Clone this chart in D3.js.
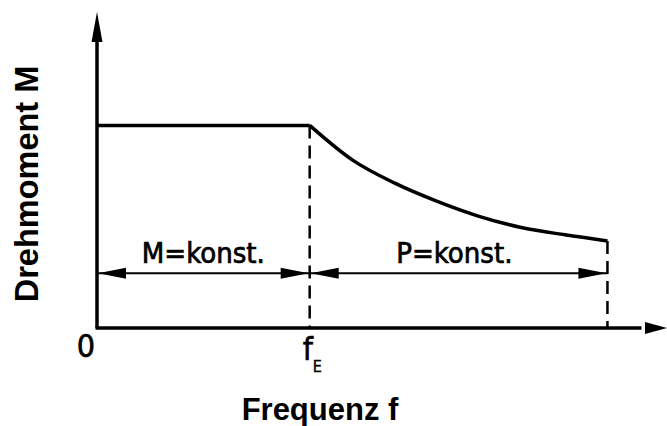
<!DOCTYPE html>
<html>
<head>
<meta charset="utf-8">
<script src="https://cdn.jsdelivr.net/npm/d3@7"></script>
<style>
  body { margin: 0; background: #fff; }
  svg { display: block; }
</style>
</head>
<body>
<div id="chart"></div>
<script>
// values (f in Hz-like units, M in % of nominal torque)
const fE = 50;
const fMax = 120;
const flatF = [0, 50];
const flatM = [100, 100];
const curveF = [50, 60, 70, 80, 90, 100, 110, 120];
const curveM = [100, 83, 71.5, 62.5, 55, 49.5, 46, 43];
const dimM = 27;
const rangeLabels = ['M=konst.', 'P=konst.'];
const rangeCenters = [25, 84];

(function(){
    const W = 667, H = 426;
    const origin = { x: 97, y: 328 };

    const svg = d3.select('#chart')
        .append('svg')
            .attr('width', W)
            .attr('height', H);

    const x = d3.scaleLinear().domain([0, 134]).range([origin.x, 667]);
    const y = d3.scaleLinear().domain([0, 156]).range([origin.y, 12]);

    const condensed = '"DejaVu Sans Condensed", "DejaVu Sans", sans-serif';

    // axes
    svg.append('line')
        .attr('x1', x(0)).attr('y1', y(0))
        .attr('x2', x(0)).attr('y2', y(148))
        .attr('stroke', '#000').attr('stroke-width', 3.5);
    svg.append('line')
        .attr('x1', x(0) - 1.5).attr('y1', y(0))
        .attr('x2', x(128)).attr('y2', y(0))
        .attr('stroke', '#000').attr('stroke-width', 3.5);

    // axis arrow heads
    const yTip = y(156), yBase = y(156) + 30;
    svg.append('path')
        .attr('d', `M${x(0)},${yTip} L${x(0) + 5.5},${yBase} L${x(0) - 5.5},${yBase} Z`)
        .attr('fill', '#000');
    const xTip = x(134), xBase = x(134) - 22;
    svg.append('path')
        .attr('d', `M${xTip},${y(0)} L${xBase},${y(0) - 6} L${xBase},${y(0) + 6} Z`)
        .attr('fill', '#000');

    // dashed verticals
    [[fE, flatM[1]], [fMax, curveM[curveM.length - 1]]].forEach(([f, m]) => {
        svg.append('line')
            .attr('x1', x(f)).attr('y1', y(m))
            .attr('x2', x(f)).attr('y2', y(0))
            .attr('stroke', '#000').attr('stroke-width', 2.5)
            .attr('stroke-dasharray', '13,7');
    });

    // torque curve
    const line = d3.line()
        .x(d => x(d[0]))
        .y(d => y(d[1]));

    svg.append('path')
        .datum(flatF.map((f, i) => [f, flatM[i]]))
        .attr('d', line)
        .attr('fill', 'none')
        .attr('stroke', '#000').attr('stroke-width', 3.5);

    svg.append('path')
        .datum(curveF.map((f, i) => [f, curveM[i]]))
        .attr('d', line.curve(d3.curveMonotoneX))
        .attr('fill', 'none')
        .attr('stroke', '#000').attr('stroke-width', 3.5)
        .attr('stroke-linejoin', 'round');

    // dimension arrows
    const head = (tipX, dir) => {
        const ty = y(dimM);
        const bx = tipX + dir * 28;
        return `M${tipX},${ty} L${bx},${ty - 5.5} L${bx},${ty + 5.5} Z`;
    };
    [[0, fE], [fE, fMax]].forEach(([a, b], i) => {
        svg.append('line')
            .attr('x1', x(a)).attr('y1', y(dimM))
            .attr('x2', x(b)).attr('y2', y(dimM))
            .attr('stroke', '#000').attr('stroke-width', 2);
        svg.append('path').attr('d', head(x(a) + 1, 1)).attr('fill', '#000');
        svg.append('path').attr('d', head(x(b) - 1, -1)).attr('fill', '#000');

        svg.append('text')
            .attr('x', x(rangeCenters[i]))
            .attr('y', y(dimM) - 10)
            .attr('text-anchor', 'middle')
            .style('font-family', condensed)
            .style('font-size', '29px')
            .style('stroke', '#000')
            .style('stroke-width', 0.7)
            .text(rangeLabels[i]);
    });

    // tick labels
    svg.append('text')
        .attr('x', x(0) - 11)
        .attr('y', 357)
        .attr('text-anchor', 'middle')
        .style('font-family', condensed)
        .style('font-size', '32px')
        .style('stroke', '#000')
        .style('stroke-width', 0.6)
        .text('0');

    const fLabel = svg.append('text')
        .attr('x', x(fE) - 7)
        .attr('y', 360)
        .style('font-family', condensed)
        .style('font-size', '32px')
        .style('stroke', '#000')
        .style('stroke-width', 0.6);
    fLabel.append('tspan').text('f');
    fLabel.append('tspan')
        .attr('dy', 12)
        .style('font-size', '16px')
        .style('stroke-width', 0.4)
        .text('E');

    // axis titles
    svg.append('text')
        .attr('x', 320)
        .attr('y', 420)
        .attr('text-anchor', 'middle')
        .style('font-family', '"Liberation Sans", Arial, sans-serif')
        .style('font-weight', 'bold')
        .style('font-size', '31px')
        .text('Frequenz f');

    svg.append('text')
        .attr('transform', 'translate(38, 184) rotate(-90)')
        .attr('text-anchor', 'middle')
        .style('font-family', '"Liberation Sans", Arial, sans-serif')
        .style('font-weight', 'bold')
        .style('font-size', '32.5px')
        .text('Drehmoment M');
}());
</script>
</body>
</html>
